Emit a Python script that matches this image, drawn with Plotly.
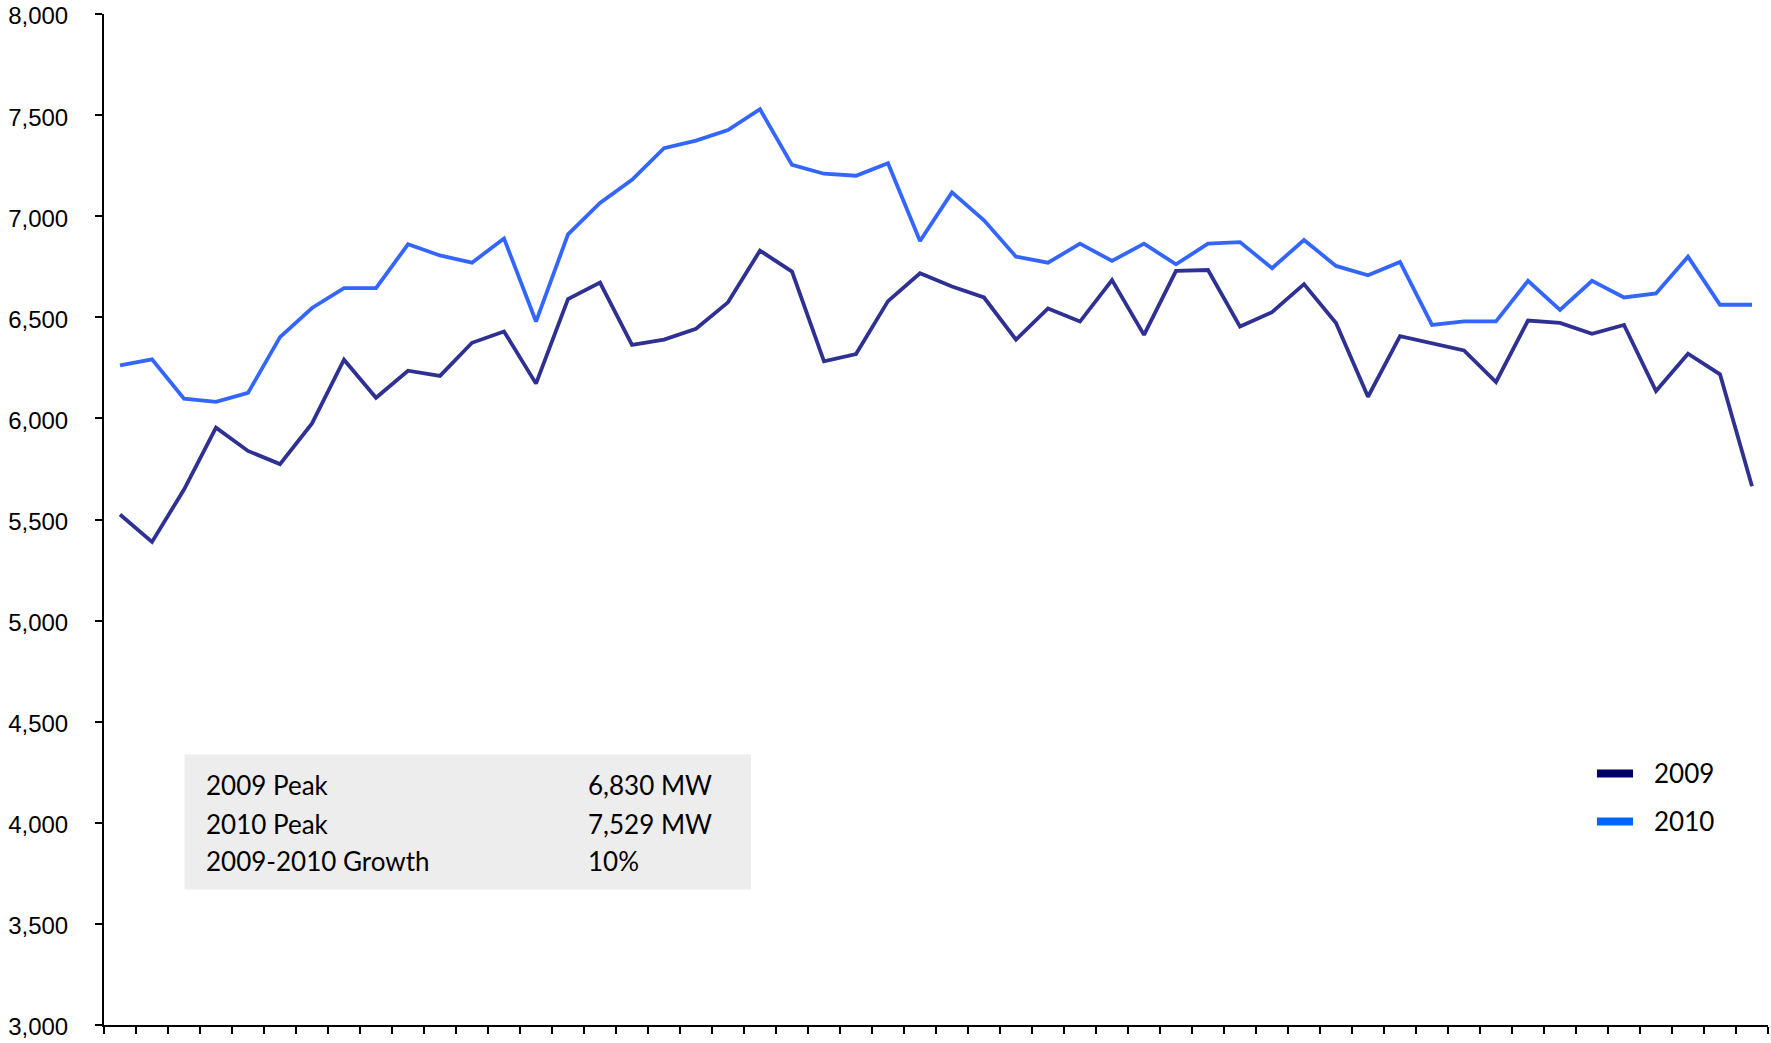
import plotly.graph_objects as go

# Weekly peak load (MW), week 1..52
weeks = list(range(1, 53))

peak_2009 = [
    5525, 5389, 5648, 5954, 5839, 5774, 5975, 6290, 6102, 6236,
    6210, 6374, 6430, 6172, 6590, 6672, 6364, 6390, 6443, 6574,
    6830, 6726, 6282, 6318, 6580, 6718, 6652, 6598, 6390, 6544,
    6479, 6684, 6413, 6730, 6734, 6454, 6525, 6664, 6472, 6107,
    6407, 6371, 6336, 6180, 6484, 6472, 6418, 6462, 6135, 6320,
    6218, 5664,
]

peak_2010 = [
    6262, 6292, 6098, 6082, 6126, 6402, 6546, 6644, 6644, 6861,
    6806, 6770, 6890, 6479, 6910, 7066, 7180, 7336, 7374, 7426,
    7529, 7254, 7210, 7200, 7262, 6877, 7118, 6980, 6800, 6770,
    6864, 6779, 6864, 6762, 6864, 6872, 6743, 6882, 6754, 6708,
    6774, 6462, 6480, 6480, 6680, 6536, 6680, 6598, 6618, 6800,
    6562, 6562,
]

series_names = ["2009", "2010"]
line_colors = ["#2E3192", "#3366FF"]
legend_colors = ["#000066", "#0066FF"]

summary_labels = ["2009 Peak", "2010 Peak", "2009-2010 Growth"]
summary_values = ["6,830 MW", "7,529 MW", "10%"]

fig = go.Figure()

for name, vals, col in zip(series_names, [peak_2009, peak_2010], line_colors):
    fig.add_trace(go.Scatter(
        x=weeks, y=vals, mode="lines", name=name,
        line=dict(color=col, width=3.8),
        showlegend=False,
    ))

text_font = dict(family="Lato, Open Sans, sans-serif", size=26, color="#000000")

# summary box
fig.add_shape(type="rect", xref="paper", yref="paper",
              x0=0.0484, x1=0.3888, y0=0.1340, y1=0.2676,
              fillcolor="#EDEDED", line=dict(width=0), layer="below")

row_y = [0.2370, 0.1988, 0.1622]
for lab, val, yy in zip(summary_labels, summary_values, row_y):
    fig.add_annotation(xref="paper", yref="paper", x=0.0600, y=yy,
                       text=lab, showarrow=False, xanchor="left", yanchor="middle",
                       font=text_font)
    fig.add_annotation(xref="paper", yref="paper", x=0.2895, y=yy,
                       text=val, showarrow=False, xanchor="left", yanchor="middle",
                       font=text_font)

# legend: colour swatch + series name
legend_y = [0.2488, 0.2014]
for name, col, yy in zip(series_names, legend_colors, legend_y):
    fig.add_shape(type="line", xref="paper", yref="paper",
                  x0=0.8972, x1=0.9189, y0=yy, y1=yy,
                  line=dict(color=col, width=8))
    fig.add_annotation(xref="paper", yref="paper", x=0.9300, y=yy,
                       text=name, showarrow=False, xanchor="left", yanchor="middle",
                       font=text_font)

fig.update_layout(
    width=1771, height=1043,
    margin=dict(l=104, r=3, t=14, b=18, autoexpand=False),
    paper_bgcolor="white", plot_bgcolor="white",
    font=dict(family="Liberation Sans, Arial, sans-serif", size=24, color="#000000"),
    showlegend=False,
)

fig.update_xaxes(
    range=[0.5, 52.5], tick0=0.5, dtick=1,
    showticklabels=False, ticks="outside", ticklen=7, tickwidth=2, tickcolor="black",
    showline=True, linecolor="black", linewidth=2,
    showgrid=False, zeroline=False, automargin=False,
)
fig.update_yaxes(
    range=[3000, 8000], tick0=3000, dtick=500, tickformat=",d",
    ticks="outside", ticklen=7, tickwidth=2, tickcolor="black",
    ticklabelstandoff=22, ticklabelshift=2, ticklabeloverflow="allow",
    showline=True, linecolor="black", linewidth=2,
    showgrid=False, zeroline=False, automargin=False,
)

fig.write_html("out.html")
